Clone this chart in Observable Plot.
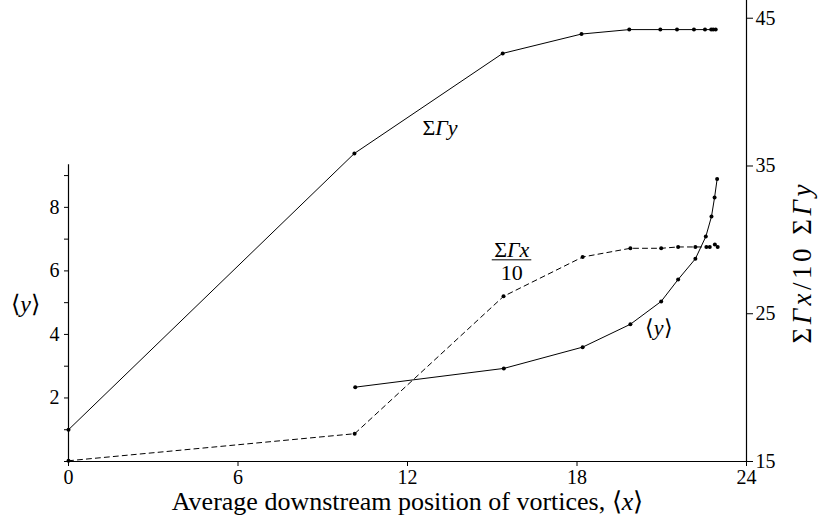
<!DOCTYPE html>
<html><head><meta charset="utf-8">
<script src="https://cdn.jsdelivr.net/npm/d3@7"></script>
<script src="https://cdn.jsdelivr.net/npm/@observablehq/plot@0.6"></script>
<style>body{margin:0;background:#fff} svg text{font-family:"Liberation Serif","Times New Roman",serif !important}</style>
</head><body><div id="chart"></div>
<script>
// ΣΓy series (right axis)
const xSumGy = [0, 10.12, 15.37, 18.16, 19.85, 20.95, 21.54, 22.14, 22.53, 22.75, 22.82, 22.91];
const sumGy  = [17.15, 35.85, 42.62, 43.93, 44.23, 44.23, 44.23, 44.23, 44.23, 44.23, 44.23, 44.23];
// ΣΓx/10 series (right axis, dashed)
const xSumGx = [0, 10.13, 15.4, 18.2, 19.89, 20.98, 21.58, 22.19, 22.58, 22.7, 22.88, 22.98];
const sumGx10 = [15.05, 16.88, 26.18, 28.84, 29.43, 29.43, 29.52, 29.52, 29.52, 29.52, 29.68, 29.52];
// <y> series (left axis)
const xMeanY = [10.15, 15.41, 18.2, 19.89, 20.98, 21.58, 22.19, 22.56, 22.76, 22.87, 22.96];
const meanY  = [2.34, 2.93, 3.6, 4.32, 5.04, 5.73, 6.38, 7.08, 7.71, 8.31, 8.89];

const xTicks = [0, 6, 12, 18, 24];
const rightTicks = [15, 25, 35, 45];
const leftMinorTicks = [1, 3, 5, 7, 9];
const leftMajorTicks = [0, 2, 4, 6, 8];
const leftLabels = ["", "2", "4", "6", "8"];
const leftTop = 9.34;

const xTitle = "Average downstream position of vortices, ⟨x⟩";
const rightTitle = "ΣΓx/10 ΣΓy";
const leftTitle = "⟨y⟩";

// left axis value -> right axis value
const k = 2.15;
const toR = v => 15 + v * k;

const gy = xSumGy.map((x, i) => ({x, y: sumGy[i]}));
const gx = xSumGx.map((x, i) => ({x, y: sumGx10[i]}));
const my = xMeanY.map((x, i) => ({x, y: toR(meanY[i])}));

const annotations = [
  {x: 13.15, y: 37.56, text: "ΣΓy"},
  {x: 15.69, y: 29.3, text: "ΣΓx"},
  {x: 15.69, y: 27.78, text: "10"},
  {x: 20.89, y: 24.01, text: "⟨y⟩"}
];
const fracBar = [{x1: 15.0, x2: 16.4, y: 28.65}];

const font = '"Liberation Serif", "Times New Roman", serif';

const svg = Plot.plot({
  width: 819,
  height: 526,
  marginLeft: 68,
  marginRight: 73,
  marginTop: 0,
  marginBottom: 65,
  style: {fontFamily: font, color: "black", background: "white"},
  x: {domain: [0, 24]},
  y: {domain: [15, 46.2]},
  marks: [
    Plot.ruleY([15], {stroke: "black", strokeWidth: 1.2}),
    Plot.ruleX([24], {stroke: "black", strokeWidth: 1.2}),
    Plot.ruleX([0], {y1: 15, y2: toR(leftTop), stroke: "black", strokeWidth: 1.2}),
    Plot.axisX(xTicks, {tickSize: 5, tickPadding: 3, fontSize: 20, label: null}),
    Plot.axisY(rightTicks, {anchor: "right", tickSize: 6, tickPadding: 3, fontSize: 20, label: null}),
    Plot.axisY(leftMinorTicks.map(toR), {anchor: "left", tickSize: 4, text: null, label: null}),
    Plot.axisY(leftMajorTicks.map(toR), {anchor: "left", tickSize: 4, tickPadding: 5, fontSize: 20, label: null,
      tickFormat: (d, i) => leftLabels[i]}),
    Plot.line(gy, {x: "x", y: "y", stroke: "black", strokeWidth: 1}),
    Plot.line(gx, {x: "x", y: "y", stroke: "black", strokeWidth: 1, strokeDasharray: "5,4"}),
    Plot.line(my, {x: "x", y: "y", stroke: "black", strokeWidth: 1}),
    Plot.dot(gy, {x: "x", y: "y", r: 2, fill: "black"}),
    Plot.dot(gx, {x: "x", y: "y", r: 2, fill: "black"}),
    Plot.dot(my, {x: "x", y: "y", r: 2, fill: "black"}),
    Plot.text(annotations, {x: "x", y: "y", text: "text", fontSize: 22, fill: "black"}),
    Plot.ruleY(fracBar, {x1: "x1", x2: "x2", y: "y", stroke: "black", strokeWidth: 1}),
    Plot.text([xTitle], {frameAnchor: "bottom", dy: 48, fontSize: 26, fill: "black"}),
    Plot.text([{x: 24, y: 28.48}], {x: "x", y: "y", text: () => rightTitle, dx: 56, rotate: -90, fontSize: 27, fill: "black"}),
    Plot.text([{x: 0, y: toR(4.95)}], {x: "x", y: "y", text: () => leftTitle, dx: -43, fontSize: 24, fill: "black"})
  ]
});

const rich = new Map([
  ["ΣΓy", [["Σ", 0], ["Γy", 1]]],
  ["ΣΓx", [["Σ", 0], ["Γx", 1]]],
  ["⟨y⟩", [["⟨", 0], ["y", 1], ["⟩", 0]]],
  [xTitle, [["Average downstream position of vortices, ⟨", 0], ["x", 1], ["⟩", 0]]],
  [rightTitle, [["Σ", 0], ["Γx", 1], ["/10 Σ", 0], ["Γy", 1]]]
]);
d3.select(svg).attr("font-family", font);
d3.select(svg).selectAll("text").each(function() {
  const key = this.textContent;
  const parts = rich.get(key);
  if (!parts) return;
  while (this.firstChild) this.removeChild(this.firstChild);
  for (const [s, it] of parts) {
    const ts = document.createElementNS("http://www.w3.org/2000/svg", "tspan");
    ts.textContent = s;
    if (it) ts.setAttribute("font-style", "italic");
    this.appendChild(ts);
  }
  if (key === rightTitle) this.setAttribute("letter-spacing", "3.5");
});

document.getElementById("chart").appendChild(svg);
</script></body></html>
